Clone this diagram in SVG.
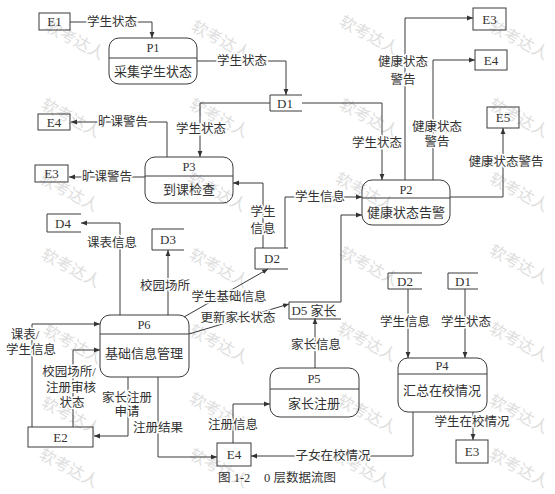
<svg xmlns="http://www.w3.org/2000/svg" width="555" height="494" viewBox="0 0 555 494">
<defs>
<marker id="ah" viewBox="0 0 10 10" refX="10" refY="5" markerWidth="6" markerHeight="6" orient="auto" markerUnits="userSpaceOnUse"><path d="M0,1 L10,5 L0,9 z" fill="#333"/></marker>
<style>
.ln{fill:none;stroke:#3a3a3a;stroke-width:1;marker-end:url(#ah)}
.bx{fill:none;stroke:#3a3a3a;stroke-width:1}
.t{font-family:"Liberation Serif","Noto Sans CJK SC",serif;font-size:12.5px;fill:#333;text-anchor:middle;dominant-baseline:central}
.n{font-size:13px}
.s{text-anchor:start}
.lb{paint-order:stroke;stroke:#fff;stroke-width:3px;stroke-linejoin:round}
.wm{font-family:"Noto Sans CJK SC",sans-serif;font-size:16px;fill:#dedede}
</style>
</defs>
<rect width="555" height="494" fill="#fff"/>
<g id="watermark">
<text class="wm" transform="translate(44,30) rotate(28)">软考达人</text>
<text class="wm" transform="translate(190,30) rotate(28)">软考达人</text>
<text class="wm" transform="translate(338,25) rotate(28)">软考达人</text>
<text class="wm" transform="translate(488,30) rotate(28)">软考达人</text>
<text class="wm" transform="translate(40,108) rotate(28)">软考达人</text>
<text class="wm" transform="translate(188,108) rotate(28)">软考达人</text>
<text class="wm" transform="translate(338,108) rotate(28)">软考达人</text>
<text class="wm" transform="translate(488,108) rotate(28)">软考达人</text>
<text class="wm" transform="translate(38,182) rotate(28)">软考达人</text>
<text class="wm" transform="translate(186,182) rotate(28)">软考达人</text>
<text class="wm" transform="translate(334,182) rotate(28)">软考达人</text>
<text class="wm" transform="translate(488,182) rotate(28)">软考达人</text>
<text class="wm" transform="translate(40,258) rotate(28)">软考达人</text>
<text class="wm" transform="translate(188,258) rotate(28)">软考达人</text>
<text class="wm" transform="translate(338,256) rotate(28)">软考达人</text>
<text class="wm" transform="translate(488,254) rotate(28)">软考达人</text>
<text class="wm" transform="translate(42,334) rotate(28)">软考达人</text>
<text class="wm" transform="translate(188,334) rotate(28)">软考达人</text>
<text class="wm" transform="translate(336,332) rotate(28)">软考达人</text>
<text class="wm" transform="translate(488,332) rotate(28)">软考达人</text>
<text class="wm" transform="translate(40,406) rotate(28)">软考达人</text>
<text class="wm" transform="translate(188,402) rotate(28)">软考达人</text>
<text class="wm" transform="translate(336,404) rotate(28)">软考达人</text>
<text class="wm" transform="translate(488,404) rotate(28)">软考达人</text>
<text class="wm" transform="translate(38,458) rotate(28)">软考达人</text>
<text class="wm" transform="translate(188,458) rotate(28)">软考达人</text>
<text class="wm" transform="translate(330,458) rotate(28)">软考达人</text>
<text class="wm" transform="translate(488,458) rotate(28)">软考达人</text>
</g>
<g id="connectors">
<path class="ln" d="M70,22 H152 V38"/>
<path class="ln" d="M197,61 H286 V95"/>
<path class="ln" d="M270,103 H200 V157"/>
<path class="ln" d="M302,103 H382 V180"/>
<path class="ln" d="M167,157 V122 H71"/>
<path class="ln" d="M145,177 H69"/>
<path class="ln" d="M263,248 V183 H233"/>
<path class="ln" d="M285,248 V197 H362"/>
<path class="ln" d="M341,302 V215 H362"/>
<path class="ln" d="M405,180 V18 H473"/>
<path class="ln" d="M433,180 V60 H475"/>
<path class="ln" d="M450,197 H503 V128"/>
<path class="ln" d="M120,315 V223 H81"/>
<path class="ln" d="M168,315 V250"/>
<path class="ln" d="M184,317 L268,269"/>
<path class="ln" d="M189,334 L289,304"/>
<path class="ln" d="M32,427 V324 H100"/>
<path class="ln" d="M73,427 V350 H100"/>
<path class="ln" d="M128,377 V436 H94"/>
<path class="ln" d="M158,377 V457 H217"/>
<path class="ln" d="M233,443 V404 H270"/>
<path class="ln" d="M315,368 V318"/>
<path class="ln" d="M408,289 V358"/>
<path class="ln" d="M465,289 V358"/>
<path class="ln" d="M413,412 V456 H251"/>
<path class="ln" d="M473,412 V440"/>
<g class="t lb">
<text x="112" y="22">学生状态</text>
<text x="242" y="61">学生状态</text>
<text x="201" y="129">学生状态</text>
<text x="377" y="143">学生状态</text>
<text x="123" y="122">旷课警告</text>
<text x="107" y="177">旷课警告</text>
<text x="263" y="212">学生</text>
<text x="263" y="229">信息</text>
<text x="320" y="197">学生信息</text>
<text x="403" y="62">健康状态</text>
<text x="403" y="80">警告</text>
<text x="437" y="127">健康状态</text>
<text x="437" y="142">警告</text>
<text x="506" y="162">健康状态警告</text>
<text x="112" y="243">课表信息</text>
<text x="165" y="286">校园场所</text>
<text x="229" y="297">学生基础信息</text>
<text x="238" y="318">更新家长状态</text>
<text x="25" y="335">课表/</text>
<text x="31" y="350">学生信息</text>
<text x="69" y="372">校园场所/</text>
<text x="71" y="388">注册审核</text>
<text x="72" y="403">状态</text>
<text x="127" y="398">家长注册</text>
<text x="127" y="412">申请</text>
<text x="158" y="428">注册结果</text>
<text x="233" y="425">注册信息</text>
<text x="316" y="345">家长信息</text>
<text x="405" y="322">学生信息</text>
<text x="466" y="322">学生状态</text>
<text x="333" y="456">子女在校情况</text>
<text x="472" y="422">学生在校情况</text>
</g>
</g>
<g id="P1"><rect class="bx" x="109" y="38" width="88" height="46" rx="10"/><line class="bx" x1="109" y1="58" x2="197" y2="58"/><text class="t" x="153" y="48">P1</text><text class="t n" x="153" y="71">采集学生状态</text></g>
<g id="P2"><rect class="bx" x="362" y="180" width="88" height="45" rx="10"/><line class="bx" x1="362" y1="198" x2="450" y2="198"/><text class="t" x="406" y="190">P2</text><text class="t n" x="406" y="212">健康状态告警</text></g>
<g id="P3"><rect class="bx" x="145" y="157" width="88" height="46" rx="10"/><line class="bx" x1="145" y1="176" x2="233" y2="176"/><text class="t" x="189" y="167">P3</text><text class="t n" x="189" y="189">到课检查</text></g>
<g id="P4"><rect class="bx" x="398" y="358" width="89" height="54" rx="10"/><line class="bx" x1="398" y1="374" x2="487" y2="374"/><text class="t" x="442" y="366">P4</text><text class="t n" x="442" y="390">汇总在校情况</text></g>
<g id="P5"><rect class="bx" x="270" y="368" width="89" height="49" rx="10"/><line class="bx" x1="270" y1="389" x2="359" y2="389"/><text class="t" x="314" y="379">P5</text><text class="t n" x="314" y="403">家长注册</text></g>
<g id="P6"><rect class="bx" x="100" y="315" width="89" height="62" rx="10"/><line class="bx" x1="100" y1="334" x2="189" y2="334"/><text class="t" x="144" y="325">P6</text><text class="t n" x="144" y="353">基础信息管理</text></g>
<g id="E1"><rect class="bx" x="39" y="13" width="31" height="17"/><text class="t n" x="54.5" y="21.5">E1</text></g>
<g id="E4a"><rect class="bx" x="38" y="114" width="32" height="16"/><text class="t n" x="54" y="122">E4</text></g>
<g id="E3a"><rect class="bx" x="35" y="165" width="33" height="17"/><text class="t n" x="51.5" y="173.5">E3</text></g>
<g id="E2"><rect class="bx" x="28" y="427" width="65" height="20"/><text class="t n" x="60.5" y="437">E2</text></g>
<g id="E4b"><rect class="bx" x="217" y="443" width="34" height="23"/><text class="t n" x="234" y="454.5">E4</text></g>
<g id="E3b"><rect class="bx" x="473" y="8" width="33" height="22"/><text class="t n" x="489.5" y="19">E3</text></g>
<g id="E4c"><rect class="bx" x="475" y="50" width="32" height="20"/><text class="t n" x="491" y="60">E4</text></g>
<g id="E5"><rect class="bx" x="487" y="107" width="32" height="21"/><text class="t n" x="503" y="117.5">E5</text></g>
<g id="E3c"><rect class="bx" x="456" y="440" width="32" height="23"/><text class="t n" x="472" y="451.5">E3</text></g>
<g id="D1a"><path class="bx" d="M302,95 H270 V111 H302"/><text class="t n" x="285" y="103">D1</text></g>
<g id="D4"><path class="bx" d="M81,214 H47 V232 H81"/><text class="t n" x="63" y="223">D4</text></g>
<g id="D3"><path class="bx" d="M184,229 H152 V250 H184"/><text class="t n" x="168" y="239.5">D3</text></g>
<g id="D2a"><path class="bx" d="M288,248 H255 V269 H288"/><text class="t n" x="272" y="258.5">D2</text></g>
<g id="D5"><path class="bx" d="M341,302 H289 V319 H341"/><text class="t n" x="314" y="310.5">D5 家长</text></g>
<g id="D2b"><path class="bx" d="M422,273 H388 V289 H422"/><text class="t n" x="405" y="281">D2</text></g>
<g id="D1b"><path class="bx" d="M478,273 H448 V289 H478"/><text class="t n" x="463" y="281">D1</text></g>
<text class="t s" x="218" y="478">图 1-2</text>
<text class="t s" x="264" y="478">0 层数据流图</text>
</svg>
